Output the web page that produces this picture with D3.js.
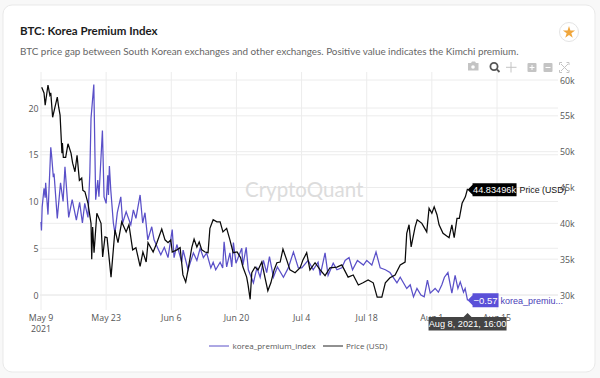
<!DOCTYPE html>
<html>
<head>
<meta charset="utf-8">
<script src="https://d3js.org/d3.v7.min.js"></script>
<style>
  html, body { margin: 0; padding: 0; background: #f8f8f8; }
  svg { display: block; }
  text { font-family: "Open Sans", sans-serif; }
</style>
</head>
<body>
<div id="chart"></div>
<script>
// values, day = days after May 9 2021 00:00 UTC
const premiumDays = [0,0.1,0.25,0.65,0.9,1,1.5,2.1,2.3,2.65,2.8,3.5,4.2,4.75,5.15,5.95,6.7,7.6,8.3,8.9,9.4,10.1,10.5,10.75,11.35,11.75,12.2,12.45,13.2,13.55,14,14.35,14.5,14.7,15,15.55,15.9,16.4,17.15,17.55,18.3,19.3,19.85,20.4,21.3,21.85,22.35,22.95,23.8,24.3,25.1,25.75,26.5,27.3,28.2,28.6,29.2,30.25,30.55,31.6,32.75,33.5,34.2,34.9,35.6,36.5,37,37.55,38.5,39.05,39.35,39.9,40.6,41,41.35,41.9,43.15,43.4,44.1,44.55,45.65,46.4,47.1,47.8,48.5,49.1,49.95,50.8,52.1,53.15,54.25,55.3,56.05,57.4,58.5,59.55,60,61.05,61.7,62.8,63.6,64.65,65.35,66.2,66.95,68,69.3,70,71.1,72,72.9,74,75,76.5,77.2,78.6,79.35,80.05,80.8,81.65,82.35,83.05,83.65,84.7,85.4,86.15,86.7,87.45,88.3,89,89.6,90.1,90.8,91.15,91.67];
const premiumValues = [7.8,6.9,9.4,11.4,10.4,12,8.6,15.8,14.8,12.6,13,8.2,12,10,13.7,8.3,10.2,8,9.9,7.7,9.8,8.3,13.1,18.9,22.5,10.2,12.3,10.5,17.6,10.5,9.8,12.8,10.7,13.8,11.2,7.7,6.6,8.8,10.5,7.7,8.9,7.5,9.1,8.2,10.7,7.7,8.8,5.9,7.3,5.9,5,4.3,5.1,4,7,4,5.4,3.5,4.8,2.7,4.5,3.7,5,4,4.5,2.9,3.5,2.7,3.5,2.9,5.7,3,4.5,3,5.6,3.4,5,3.2,5.1,2.7,1.3,2.9,1.9,3.7,2.4,4.1,1.9,3,1.9,2.9,4.6,2.9,2.9,3.7,2.7,3.5,2.1,4.5,2.1,3.4,2.7,2.9,3.7,4,2.7,3.7,3.2,3.7,3.2,4.6,2.9,2.7,2.4,1.3,1.9,0.7,1.1,-0.2,0.7,0,-0.2,1.6,0.2,0.7,0.3,1.1,1.9,2.4,0.2,2.1,0.7,1.4,0.3,0.7,-0.57];

const priceDays = [0.15,0.65,0.9,1.5,1.9,2.1,2.5,3,3.5,3.8,4.1,4.5,4.6,4.8,5.3,5.8,6.45,6.8,7.3,7.75,8.25,8.75,9,9.45,10.1,10.75,10.9,11.1,11.4,12,12.45,12.9,13.25,13.75,14.2,15.05,15.9,16.55,17.35,18.3,18.9,19.7,20.4,21.3,21.9,22.6,23,24.1,24.9,25.95,26.65,27.3,27.9,28.2,29.2,29.9,30.5,31.1,31.6,32.4,32.9,33.5,34,34.55,35.25,35.9,36.3,37,37.8,38.5,39.1,39.9,40.6,41.3,42.15,42.9,43.4,44.2,44.5,44.95,45.3,46,46.65,47.45,48.15,48.75,49.4,50.1,50.7,51.4,52,52.8,53.5,54.6,55.7,56.3,57.1,57.8,58.9,60,61.05,62.1,63.6,64.65,66,67.1,68.2,69.2,70.3,71.4,72.25,73.25,74,75,76.1,77.2,78.25,78.6,79.1,79.55,80.4,80.85,81.85,82.9,83.4,84,84.5,85.1,85.55,86.4,87.7,88.3,88.8,89.4,89.9,90.5,91.2,91.67];
const priceValues = [59,58.2,56.5,59.3,57.9,58.2,54.8,56.2,57.6,56.2,55.1,49.8,51.2,49.2,49.2,51.1,49.8,48.4,47.2,49.5,46,46.3,44.6,44.4,42.8,40,35,39.5,35.9,41.4,40.7,40,35.3,38.1,38,32.5,39.1,37.3,40.2,38.8,39.8,36.3,36.6,34,36,34.6,37.3,36,37.3,39.2,37.7,37.3,37.7,36,36.3,36.6,32.8,31.8,33.5,36.6,37.8,36.7,37.4,36.3,36,35.9,39.3,40.5,40.2,40.2,38.8,39.3,37.7,35.9,36,35.2,33.9,32.5,31.4,29.4,33.1,33.9,33.5,34.6,32.4,30.6,31.7,33.5,34.5,34.6,36.4,34.9,33.5,33.1,33.8,34.9,35.9,33.5,34.5,33.5,32.7,33.8,33.9,34.2,32.5,32.8,31.4,31.7,32.1,31.7,29.7,29.7,31.7,32.4,32.8,34.2,34.6,38.6,39.8,36.7,39.5,40.5,40,38.8,42.1,41.4,42.3,41.2,39.8,38.6,38,39.8,38,40.7,40.7,42.8,43.7,44.83];

const xTicks = ["2021-05-09", "2021-05-23", "2021-06-06", "2021-06-20", "2021-07-04", "2021-07-18", "2021-08-01", "2021-08-15"];
const xTickLabels = ["May 9", "May 23", "Jun 6", "Jun 20", "Jul 4", "Jul 18", "Aug 1", "Aug 15"];
const leftTicks = [0, 5, 10, 15, 20];
const rightTicks = [30, 35, 40, 45, 50, 55, 60];

const width = 600;
const height = 378;
const plot = { left: 40, right: 558, top: 72, bottom: 310 };
const startDay = Date.UTC(2021, 4, 9);
const dayToDate = d => new Date(startDay + d * 864e5);

const svg = d3.select("#chart").append("svg")
  .attr("width", width)
  .attr("height", height);

// card
svg.append("rect")
  .attr("x", 3).attr("y", 5)
  .attr("width", 592).attr("height", 367)
  .attr("rx", 9)
  .attr("fill", "#fff")
  .attr("stroke", "#e9e9e9");

svg.append("text")
  .attr("x", 20).attr("y", 35)
  .style("font-family", "Lato")
  .style("font-size", "11.5px")
  .style("font-weight", 700)
  .attr("fill", "#1c1c1c")
  .text("BTC: Korea Premium Index");

svg.append("text")
  .attr("x", 20).attr("y", 55)
  .style("font-family", "Lato")
  .style("font-size", "9.9px")
  .attr("fill", "#666")
  .text("BTC price gap between South Korean exchanges and other exchanges. Positive value indicates the Kimchi premium.");

// favourite button
svg.append("circle")
  .attr("cx", 569).attr("cy", 32).attr("r", 9.5)
  .attr("fill", "#fff")
  .attr("stroke", "#e4e4e4");
svg.append("path")
  .attr("d", d3.symbol(d3.symbolStar, 46))
  .attr("transform", "translate(569,32.5)")
  .attr("fill", "#f0a63c");

// scales
const x = d3.scaleUtc()
  .domain([new Date(xTicks[0]), new Date(xTicks[7])])
  .range([41, 497]);
const yLeft = d3.scaleLinear().domain([0, 20]).range([295, 108]);
const yRight = d3.scaleLinear().domain([30, 60]).range([295, 80]);

// grid
const grid = svg.append("g").attr("stroke", "#ececec").attr("stroke-width", 1);
xTicks.forEach(t => {
  grid.append("line")
    .attr("x1", x(new Date(t))).attr("x2", x(new Date(t)))
    .attr("y1", plot.top).attr("y2", 310);
});
leftTicks.forEach(t => {
  grid.append("line")
    .attr("x1", plot.left).attr("x2", plot.right)
    .attr("y1", yLeft(t)).attr("y2", yLeft(t));
});
rightTicks.forEach(t => {
  grid.append("line")
    .attr("x1", plot.left).attr("x2", plot.right)
    .attr("y1", yRight(t)).attr("y2", yRight(t));
});

// watermark
svg.append("text")
  .attr("x", 245).attr("y", 197)
  .style("font-family", "Lato")
  .style("font-size", "20.5px")
  .attr("fill", "#dcdcdc")
  .text("CryptoQuant");

// axis labels
const tickStyle = sel => sel
  .style("font-size", "8.8px")
  .attr("fill", "#555");

svg.append("g").selectAll("text")
  .data(leftTicks)
  .join("text")
  .attr("x", 38.5)
  .attr("y", d => yLeft(d) + 3.5)
  .attr("text-anchor", "end")
  .call(tickStyle)
  .text(d => d);

svg.append("g").selectAll("text")
  .data(rightTicks)
  .join("text")
  .attr("x", 560)
  .attr("y", d => yRight(d) + 3.5)
  .call(tickStyle)
  .text(d => d + "k");

svg.append("g").selectAll("text")
  .data(xTicks)
  .join("text")
  .attr("x", d => x(new Date(d)))
  .attr("y", 321)
  .attr("text-anchor", "middle")
  .call(tickStyle)
  .text((d, i) => xTickLabels[i]);

svg.append("text")
  .attr("x", x(new Date(xTicks[0]))).attr("y", 332)
  .attr("text-anchor", "middle")
  .call(tickStyle)
  .text("2021");

// lines
const premiumLine = d3.line()
  .x(d => x(dayToDate(d[0])))
  .y(d => yLeft(d[1]));
const priceLine = d3.line()
  .x(d => x(dayToDate(d[0])))
  .y(d => yRight(d[1]));

svg.append("path")
  .datum(d3.zip(premiumDays, premiumValues))
  .attr("d", premiumLine)
  .attr("fill", "none")
  .attr("stroke", "#5a50c8")
  .attr("stroke-width", 1.25);

svg.append("path")
  .datum(d3.zip(priceDays, priceValues))
  .attr("d", priceLine)
  .attr("fill", "none")
  .attr("stroke", "#0a0a0a")
  .attr("stroke-width", 1.25);

// hover labels
const lastDay = priceDays[priceDays.length - 1];
const hoverX = x(dayToDate(lastDay));
const priceY = yRight(priceValues[priceValues.length - 1]);
const premiumY = yLeft(premiumValues[premiumValues.length - 1]);

const priceTip = svg.append("g").attr("transform", `translate(${hoverX},${priceY + 1})`);
priceTip.append("path")
  .attr("d", "M0,0L5,-5V-6.5H49V6.5H5V5Z")
  .attr("fill", "#000");
priceTip.append("text")
  .attr("x", 27).attr("y", 3.5)
  .attr("text-anchor", "middle")
  .style("font-family", "Liberation Sans")
  .style("font-size", "9.2px")
  .attr("fill", "#fff")
  .text("44.83496k");
priceTip.append("text")
  .attr("x", 52).attr("y", 3.5)
  .style("font-family", "Liberation Sans")
  .style("font-size", "8.8px")
  .attr("fill", "#111")
  .text("Price (USD)");

const premiumTip = svg.append("g").attr("transform", `translate(${hoverX},${premiumY})`);
premiumTip.append("path")
  .attr("d", "M0,0L5,-5V-7H31V7H5V5Z")
  .attr("fill", "#5a50d8");
premiumTip.append("text")
  .attr("x", 18).attr("y", 3.5)
  .attr("text-anchor", "middle")
  .style("font-family", "Liberation Sans")
  .style("font-size", "9.5px")
  .attr("fill", "#fff")
  .text("\u22120.57");
premiumTip.append("text")
  .attr("x", 33).attr("y", 3.5)
  .style("font-family", "Liberation Sans")
  .style("font-size", "9px")
  .attr("fill", "#4a40b8")
  .text("korea_premiu...");

const dateTip = svg.append("g").attr("transform", `translate(${hoverX},313)`);
dateTip.append("path")
  .attr("d", "M0,0L4,4H39V17.5H-39V4H-4Z")
  .attr("fill", "#444");
dateTip.append("text")
  .attr("x", 0).attr("y", 14)
  .attr("text-anchor", "middle")
  .style("font-family", "Liberation Sans")
  .style("font-size", "9.2px")
  .attr("fill", "#fff")
  .text("Aug 8, 2021, 16:00");

// legend
const legend = svg.append("g").style("font-size", "8px").attr("fill", "#555");
legend.append("line")
  .attr("x1", 209).attr("x2", 229).attr("y1", 346).attr("y2", 346)
  .attr("stroke", "#5a50c8");
legend.append("text").attr("x", 232.5).attr("y", 349).text("korea_premium_index");
legend.append("line")
  .attr("x1", 323).attr("x2", 343).attr("y1", 346).attr("y2", 346)
  .attr("stroke", "#222");
legend.append("text").attr("x", 346).attr("y", 349).text("Price (USD)");

// plot toolbar
const bar = svg.append("g").attr("fill", "#c4c4c4");
bar.append("path")
  .attr("d", "M468,63h3l1,-1.5h3l1,1.5h2.5v7.5h-10.5Z");
bar.append("circle").attr("cx", 473).attr("cy", 67).attr("r", 1.8).attr("fill", "#fff");
bar.append("circle").attr("cx", 494).attr("cy", 66.5).attr("r", 3.6)
  .attr("fill", "none").attr("stroke", "#555").attr("stroke-width", 1.8);
bar.append("line").attr("x1", 497).attr("y1", 69.5).attr("x2", 499.5).attr("y2", 72)
  .attr("stroke", "#555").attr("stroke-width", 1.8);
bar.append("path")
  .attr("d", "M511,62v10.5M506,67.3h10.5")
  .attr("stroke", "#c4c4c4").attr("fill", "none");
bar.append("rect").attr("x", 527.5).attr("y", 63).attr("width", 9).attr("height", 9).attr("rx", 1);
bar.append("path").attr("d", "M532,65v5M529.5,67.5h5").attr("stroke", "#fff");
bar.append("rect").attr("x", 543.5).attr("y", 63).attr("width", 9).attr("height", 9).attr("rx", 1);
bar.append("path").attr("d", "M545.5,67.5h5").attr("stroke", "#fff");
bar.append("path")
  .attr("d", "M559.5,65v-2.5h2.5M566.5,62.5h2.5v2.5M569,70v2.5h-2.5M562,72.5h-2.5v-2.5M561,64l7,7M568,64l-7,7")
  .attr("fill", "none").attr("stroke", "#c4c4c4");
</script>
</body>
</html>
